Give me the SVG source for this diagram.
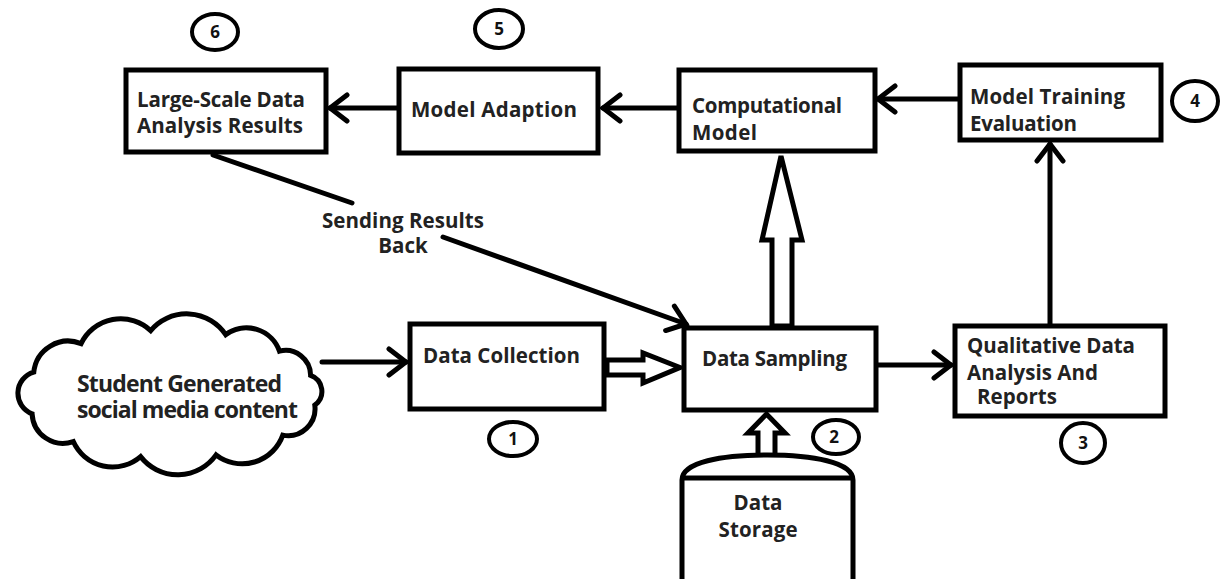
<svg xmlns="http://www.w3.org/2000/svg" width="1222" height="579" viewBox="0 0 1222 579">
  <defs>
    <style>
      .box { fill: #fff; stroke: #000; stroke-width: 5; }
      .num { fill: none; stroke: #000; stroke-width: 4; }
      .numtxt { font-family: "Open Sans", "Liberation Sans", sans-serif; font-weight: bold; font-size: 17px; fill: #111; text-anchor: middle; }
      .lbl { font-family: "Open Sans", "Liberation Sans", sans-serif; font-weight: bold; font-size: 20.5px; fill: #222; }
      .big { font-family: "Open Sans", "Liberation Sans", sans-serif; font-weight: bold; font-size: 23px; fill: #222; }
      .wire { fill: none; stroke: #000; stroke-width: 5; stroke-linecap: round; }
      .hollow { fill: #fff; stroke: #000; stroke-width: 5; stroke-linejoin: miter; }
    </style>
    <marker id="open" viewBox="-22 -16 26 32" refX="0" refY="0" markerWidth="26" markerHeight="32" markerUnits="userSpaceOnUse" orient="auto">
      <path d="M-17,-13 L0,0 L-17,13" fill="none" stroke="#000" stroke-width="5" stroke-linecap="round" stroke-linejoin="miter"/>
    </marker>
  </defs>
  <rect width="1222" height="579" fill="#fff"/>

  <!-- connectors -->
  <g id="connectors">
    <line class="wire" x1="322" y1="362" x2="406" y2="362" marker-end="url(#open)"/>
    <polygon class="hollow" points="607,360 643,360 643,353 680,367.5 643,383 643,375 607,375"/>
    <line class="wire" x1="878" y1="365" x2="951" y2="365" marker-end="url(#open)"/>
    <line class="wire" x1="1050" y1="324" x2="1050" y2="144" marker-end="url(#open)"/>
    <line class="wire" x1="958" y1="99" x2="878" y2="99" marker-end="url(#open)"/>
    <polygon class="hollow" points="772,326 772,240 762,240 781,156 802,240 792,240 792,326"/>
    <line class="wire" x1="677" y1="108" x2="603" y2="108" marker-end="url(#open)"/>
    <line class="wire" x1="397" y1="108" x2="330" y2="108" marker-end="url(#open)"/>
    <polygon class="hollow" points="758,456 758,433 748,433 766.5,414 785,433 775,433 775,456"/>
    <line class="wire" x1="213" y1="155" x2="352" y2="203"/>
    <line class="wire" x1="443" y1="237" x2="686" y2="324" marker-end="url(#open)"/>
    <text class="lbl" x="403" y="228" text-anchor="middle" textLength="162">Sending Results</text>
    <text class="lbl" x="403" y="253" text-anchor="middle">Back</text>
  </g>

  <!-- source cloud -->
  <g id="cloud">
    <path class="box" d="M33.8,372.1 A34.5,34.5 0 0 1 81.1,343.6 A44,44 0 0 1 150.7,330.6 A47,47 0 0 1 225.7,334.7 A35,35 0 0 1 279.5,351.2 A25,25 0 0 1 310.6,375.3 A17,17 0 0 1 314.8,405.1 A27,27 0 0 1 282.8,435.1 A43,43 0 0 1 216.1,454.9 A47,47 0 0 1 140.6,456.6 A43,43 0 0 1 73.3,441.6 A31,31 0 0 1 32.1,413.8 A22,22 0 0 1 33.8,372.1 Z"/>
    <text class="big" x="77" y="392" textLength="205">Student Generated</text>
    <text class="big" x="77" y="418" textLength="221">social media content</text>
  </g>

  <g id="data-collection">
    <rect class="box" x="410" y="324" width="194" height="85"/>
    <text class="lbl" x="423" y="363" textLength="157">Data Collection</text>
  </g>
  <g id="badge-1">
    <ellipse class="num" cx="513" cy="439" rx="24" ry="17"/>
    <text class="numtxt" x="513" y="445">1</text>
  </g>

  <g id="data-sampling">
    <rect class="box" x="684" y="328" width="192" height="82"/>
    <text class="lbl" x="702" y="366" textLength="145">Data Sampling</text>
  </g>
  <g id="badge-2">
    <ellipse class="num" cx="836" cy="437" rx="23" ry="17"/>
    <text class="numtxt" x="834" y="443">2</text>
  </g>

  <g id="data-storage">
    <path class="box" d="M682,582 V480 C682,462 722,455 767,455 C812,455 853,462 853,480 V582"/>
    <line x1="682" y1="478" x2="853" y2="478" stroke="#000" stroke-width="5"/>
    <text class="lbl" x="758" y="510" text-anchor="middle">Data</text>
    <text class="lbl" x="758" y="537" text-anchor="middle" textLength="79">Storage</text>
  </g>

  <g id="qualitative-analysis">
    <rect class="box" x="955" y="326" width="210" height="90"/>
    <text class="lbl" x="967" y="353" textLength="168">Qualitative Data</text>
    <text class="lbl" x="967" y="380" textLength="131">Analysis And</text>
    <text class="lbl" x="977" y="404" textLength="80">Reports</text>
  </g>
  <g id="badge-3">
    <ellipse class="num" cx="1083" cy="443" rx="22" ry="20"/>
    <text class="numtxt" x="1083" y="449">3</text>
  </g>

  <g id="model-training">
    <rect class="box" x="960" y="65" width="201" height="75"/>
    <text class="lbl" x="970" y="104" textLength="155">Model Training</text>
    <text class="lbl" x="970" y="131" textLength="107">Evaluation</text>
  </g>
  <g id="badge-4">
    <ellipse class="num" cx="1195" cy="101" rx="23" ry="20"/>
    <text class="numtxt" x="1195" y="107">4</text>
  </g>

  <g id="computational-model">
    <rect class="box" x="679" y="70" width="196" height="81"/>
    <text class="lbl" x="692" y="113" textLength="150">Computational</text>
    <text class="lbl" x="692" y="140" textLength="65">Model</text>
  </g>

  <g id="model-adaption">
    <rect class="box" x="399" y="69" width="199" height="84"/>
    <text class="lbl" x="411" y="117" textLength="166">Model Adaption</text>
  </g>
  <g id="badge-5">
    <ellipse class="num" cx="499" cy="29" rx="24" ry="19"/>
    <text class="numtxt" x="499" y="35">5</text>
  </g>

  <g id="large-scale-results">
    <rect class="box" x="126" y="70" width="200" height="82"/>
    <text class="lbl" x="137" y="107" textLength="168">Large-Scale Data</text>
    <text class="lbl" x="137" y="133" textLength="166">Analysis Results</text>
  </g>
  <g id="badge-6">
    <ellipse class="num" cx="215" cy="32" rx="23" ry="18"/>
    <text class="numtxt" x="215" y="38">6</text>
  </g>
</svg>
